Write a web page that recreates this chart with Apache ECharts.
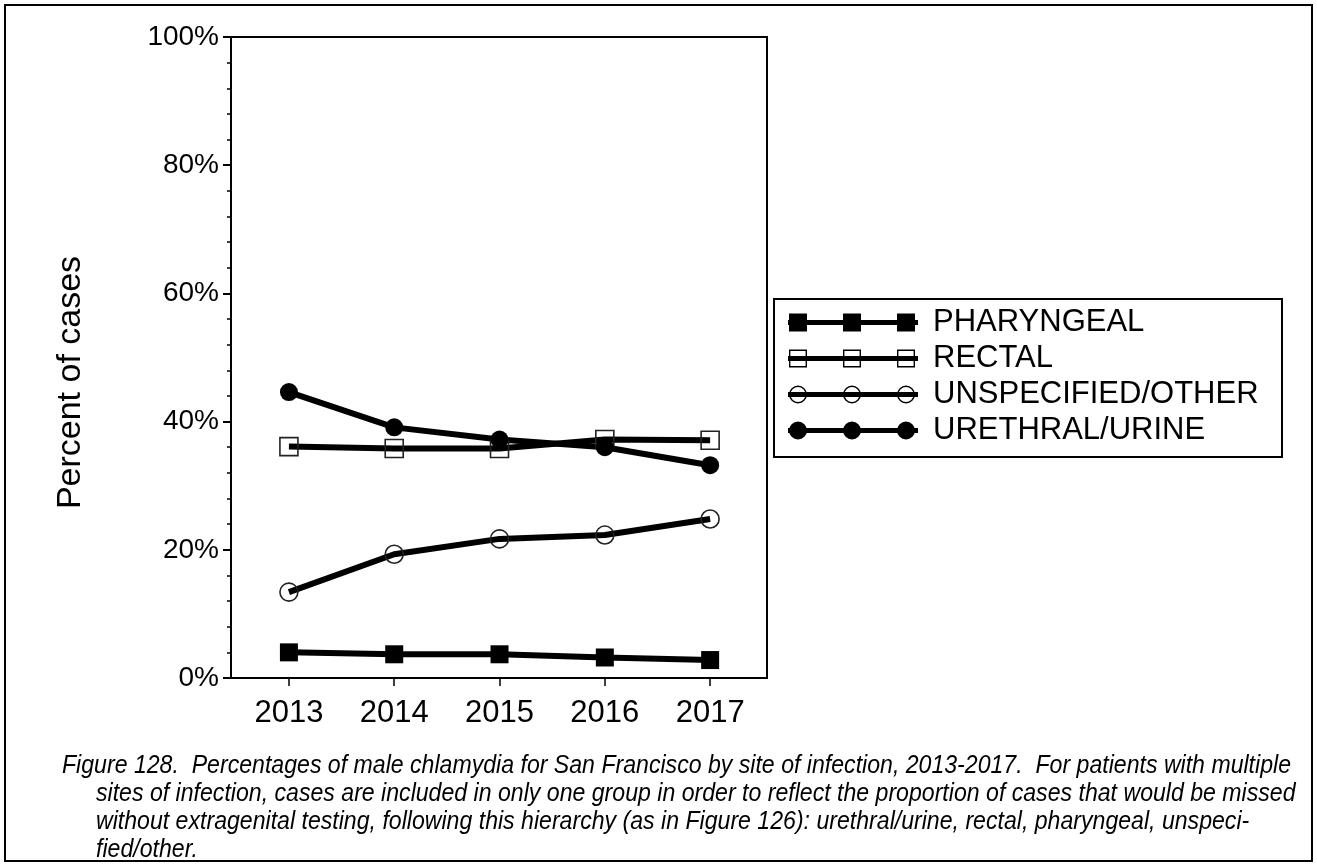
<!DOCTYPE html>
<html>
<head>
<meta charset="utf-8">
<script src="https://cdn.jsdelivr.net/npm/echarts@6/dist/echarts.min.js"></script>
<style>
  html, body { margin: 0; padding: 0; background: #fff; }
  #chart { width: 1317px; height: 866px; }
</style>
</head>
<body>
<div id="chart"></div>
<script>
// Male chlamydia, San Francisco, share of cases by site of infection (%)
const years = [2013, 2014, 2015, 2016, 2017];
const pharyngeal  = [4.0, 3.7, 3.7, 3.2, 2.8];
const rectal      = [36.1, 35.8, 35.8, 37.2, 37.1];
const unspecified = [13.4, 19.3, 21.7, 22.3, 24.8];
const urethral    = [44.6, 39.1, 37.2, 36.0, 33.2];
const seriesNames = ['PHARYNGEAL', 'RECTAL', 'UNSPECIFIED/OTHER', 'URETHRAL/URINE'];

const captionLines = [
  'Figure 128.  Percentages of male chlamydia for San Francisco by site of infection, 2013-2017.  For patients with multiple',
  'sites of infection, cases are included in only one group in order to reflect the proportion of cases that would be missed',
  'without extragenital testing, following this hierarchy (as in Figure 126): urethral/urine, rectal, pharyngeal, unspeci-',
  'fied/other.'
];

const FONT = '"Liberation Sans", Arial, Helvetica, sans-serif';
const CAPTION_FONT = 'italic 25px "Liberation Sans", Arial, sans-serif';

// Legend icons: a thick line with three markers (130 x 18 box)
const MARK_X = [10, 64, 118];
const LINE_PATH = 'M0 6.5 L130 6.5 L130 11.5 L0 11.5 Z ';
function squares(hollow) {
  return MARK_X.map(cx => {
    let p = `M${cx - 9} 0 L${cx + 9} 0 L${cx + 9} 18 L${cx - 9} 18 Z `;
    if (hollow) {
      const a = cx - 7.6, b = cx + 7.6;
      p += `M${a} 1.4 L${a} 16.6 L${b} 16.6 L${b} 1.4 Z `;
    }
    return p;
  }).join('');
}
function circles(hollow) {
  return MARK_X.map(cx => {
    let p = `M${cx - 9} 9 A9 9 0 1 1 ${cx + 9} 9 A9 9 0 1 1 ${cx - 9} 9 Z `;
    if (hollow) {
      p += `M${cx - 7.6} 9 A7.6 7.6 0 1 0 ${cx + 7.6} 9 A7.6 7.6 0 1 0 ${cx - 7.6} 9 Z `;
    }
    return p;
  }).join('');
}
const legendIcons = [
  'path://' + LINE_PATH + squares(false),
  'path://' + LINE_PATH + squares(true),
  'path://' + LINE_PATH + circles(true),
  'path://' + LINE_PATH + circles(false)
];

function pairs(vals) { return years.map((y, i) => [y, vals[i]]); }

function lineSeries(name, vals, symbol, hollow) {
  return {
    name: name,
    type: 'line',
    data: pairs(vals),
    symbol: symbol,
    symbolSize: 18,
    showSymbol: true,
    lineStyle: { color: '#000', width: 6 },
    itemStyle: hollow
      ? { color: 'rgba(0,0,0,0)', borderColor: '#222', borderWidth: 1.6 }
      : { color: '#000', borderWidth: 0 },
    emphasis: { disabled: true },
    z: 3
  };
}

// Condense the caption so its first line spans the text block; all lines share that scale
const measureCtx = document.createElement('canvas').getContext('2d');
measureCtx.font = CAPTION_FONT;
const captionScale = 1229 / measureCtx.measureText(captionLines[0]).width;

const captionGraphics = captionLines.map((t, i) => ({
  type: 'text',
  x: i === 0 ? 62 : 96,
  y: 766 + i * 28,
  scaleX: captionScale,
  silent: true,
  style: {
    text: t,
    font: CAPTION_FONT,
    fill: '#000',
    textVerticalAlign: 'middle',
    textAlign: 'left'
  }
}));

const chart = echarts.init(document.getElementById('chart'), null, { renderer: 'canvas' });
chart.setOption({
  animation: false,
  backgroundColor: '#fff',
  textStyle: { fontFamily: FONT },
  grid: {
    left: 231, top: 37, width: 536, height: 641,
    show: true, borderColor: '#000', borderWidth: 2, backgroundColor: 'transparent'
  },
  xAxis: {
    type: 'value',
    min: 2012.45,
    max: 2017.54,
    axisLine: { show: true, lineStyle: { color: '#000', width: 2 } },
    axisTick: { show: true, customValues: years, length: 8, lineStyle: { color: '#000', width: 1.5 } },
    axisLabel: {
      customValues: years,
      formatter: v => String(v),
      fontSize: 31, color: '#000', margin: 20, fontFamily: FONT
    },
    splitLine: { show: false }
  },
  yAxis: {
    type: 'value',
    min: 0,
    max: 100,
    interval: 20,
    axisLine: { show: true, onZero: false, lineStyle: { color: '#000', width: 2 } },
    axisTick: { show: true, length: 8, lineStyle: { color: '#000', width: 2 } },
    minorTick: { show: true, splitNumber: 5, length: 4, lineStyle: { color: '#000', width: 1.5 } },
    splitLine: { show: false },
    minorSplitLine: { show: false },
    axisLabel: { formatter: '{value}%', fontSize: 28, color: '#000', margin: 12, fontFamily: FONT },
    name: 'Percent of cases',
    nameLocation: 'middle',
    nameRotate: 90,
    nameGap: 143,
    nameTextStyle: { fontSize: 34, color: '#000', fontFamily: FONT, padding: [0, 50, 0, 0] }
  },
  legend: {
    orient: 'vertical',
    left: 788,
    top: 307,
    padding: 0,
    itemWidth: 130,
    itemHeight: 18,
    itemGap: 5,
    selectedMode: false,
    itemStyle: { borderWidth: 0 },
    data: seriesNames.map((n, i) => ({
      name: n,
      icon: legendIcons[i],
      itemStyle: { color: '#000', borderWidth: 0 }
    })),
    textStyle: { fontSize: 31, color: '#000', fontFamily: FONT, padding: [0, 0, 0, 10] }
  },
  graphic: [
    {
      type: 'rect', silent: true,
      shape: { x: 5, y: 5, width: 1307, height: 856 },
      style: { fill: 'none', stroke: '#000', lineWidth: 2 }
    },
    {
      type: 'rect', silent: true,
      shape: { x: 774, y: 299, width: 508, height: 158 },
      style: { fill: 'none', stroke: '#000', lineWidth: 2 }
    }
  ].concat(captionGraphics),
  series: [
    lineSeries(seriesNames[0], pharyngeal, 'rect', false),
    lineSeries(seriesNames[1], rectal, 'rect', true),
    lineSeries(seriesNames[2], unspecified, 'circle', true),
    lineSeries(seriesNames[3], urethral, 'circle', false)
  ]
});
</script>
</body>
</html>
